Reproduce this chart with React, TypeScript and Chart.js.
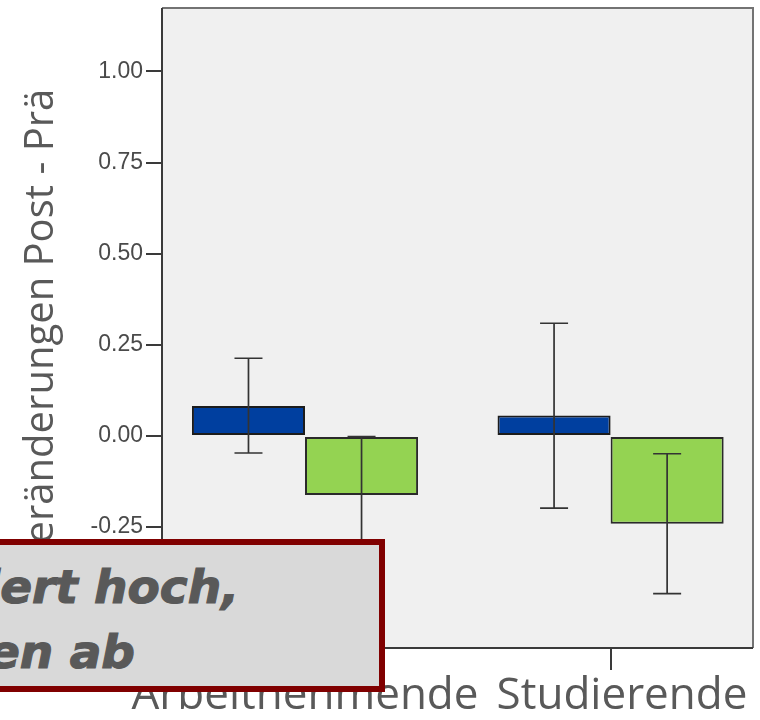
import React, { useEffect, useRef } from "react";
import { Chart, registerables } from "chart.js";

Chart.register(...registerables);

// ---- data ----
const categories = ["Arbeitnehmende", "Studierende"];
const categoryPositions = [1, 2];
const seriesNames = ["Gruppe 1", "Gruppe 2"];
const blueMeans = [0.082, 0.056];
const blueLow = [-0.047, -0.198];
const blueHigh = [0.213, 0.309];
const greenMeans = [-0.162, -0.241];
const greenLow = [-0.322, -0.433];
const greenHigh = [-0.002, -0.049];
const yTickValues = [-0.5, -0.25, 0, 0.25, 0.5, 0.75, 1.0];
const yTitle = "Veränderungen Post - Prä";
const calloutLines = ["dert hoch,", "en ab"];

// axis ranges
const xMin = 0.532;
const xMax = 2.466;
const yMin = -0.582;
const yMax = 1.174;

const plotFrame = {
  id: "plotFrame",
  beforeDraw(chart: any) {
    const { ctx, chartArea: a } = chart;
    ctx.save();
    ctx.fillStyle = "#f0f0f0";
    ctx.fillRect(a.left, a.top, a.right - a.left, a.bottom - a.top);
    ctx.restore();
  },
  afterDraw(chart: any) {
    const { ctx, chartArea: a } = chart;
    ctx.save();
    ctx.lineWidth = 2;
    ctx.strokeStyle = "#737373";
    ctx.beginPath();
    ctx.moveTo(a.left, a.top);
    ctx.lineTo(a.right, a.top);
    ctx.lineTo(a.right, a.bottom);
    ctx.stroke();
    ctx.strokeStyle = "#3a3a3a";
    ctx.beginPath();
    ctx.moveTo(a.left, a.top);
    ctx.lineTo(a.left, a.bottom);
    ctx.lineTo(a.right, a.bottom);
    ctx.stroke();
    ctx.restore();
  },
};

const errorBars = {
  id: "errorBars",
  afterDatasetsDraw(chart: any) {
    const { ctx } = chart;
    const yScale = chart.scales.y;
    const ranges = [
      [blueLow, blueHigh],
      [greenLow, greenHigh],
    ];
    ctx.save();
    ctx.strokeStyle = "#333333";
    ctx.lineWidth = 1.7;
    ranges.forEach(([lo, hi], di) => {
      const meta = chart.getDatasetMeta(di);
      meta.data.forEach((bar: any, i: number) => {
        const x = bar.x;
        const y1 = yScale.getPixelForValue(hi[i]);
        const y2 = yScale.getPixelForValue(lo[i]);
        const half = 14;
        ctx.beginPath();
        ctx.moveTo(x, y1);
        ctx.lineTo(x, y2);
        ctx.moveTo(x - half, y1);
        ctx.lineTo(x + half, y1);
        ctx.moveTo(x - half, y2);
        ctx.lineTo(x + half, y2);
        ctx.stroke();
      });
    });
    ctx.restore();
  },
};

export default function App() {
  const canvasRef = useRef<HTMLCanvasElement | null>(null);

  useEffect(() => {
    const canvas = canvasRef.current;
    if (!canvas) return;
    const chart = new Chart(canvas, {
      type: "bar",
      data: {
        datasets: [
          {
            label: seriesNames[0],
            data: categoryPositions.map((x, i) => ({ x, y: blueMeans[i] })),
            backgroundColor: "#003f9f",
            borderColor: "#1c1c1c",
            borderWidth: 2,
            borderSkipped: false,
            categoryPercentage: 0.74,
            barPercentage: 1.0,
          },
          {
            label: seriesNames[1],
            data: categoryPositions.map((x, i) => ({ x, y: greenMeans[i] })),
            backgroundColor: "#94d352",
            borderColor: "#2a2a2a",
            borderWidth: 2,
            borderSkipped: false,
            categoryPercentage: 0.74,
            barPercentage: 1.0,
          },
        ],
      } as any,
      options: {
        responsive: false,
        animation: false,
        events: [],
        layout: { padding: { left: 0, top: 8, right: 7, bottom: 0 } },
        plugins: {
          legend: { display: false },
          tooltip: { enabled: false },
        },
        scales: {
          x: {
            type: "linear",
            min: xMin,
            max: xMax,
            offset: false,
            afterBuildTicks: (s: any) => {
              s.ticks = categoryPositions.map((v) => ({ value: v }));
            },
            afterFit: (s: any) => {
              s.height = 72;
              s.paddingLeft = 0;
              s.paddingRight = 0;
            },
            grid: {
              display: true,
              offset: false,
              drawOnChartArea: false,
              drawTicks: true,
              tickLength: 22,
              color: "#3a3a3a",
              lineWidth: 2,
            },
            border: { display: false },
            ticks: {
              autoSkip: false,
              maxRotation: 0,
              padding: 0,
              color: "#595959",
              font: { family: "'Open Sans'", size: 44 },
              callback: (v: any) => {
                const idx = categoryPositions.indexOf(Number(v));
                if (idx < 0) return "";
                return idx === 1 ? "  " + categories[idx] : categories[idx];
              },
            },
          },
          y: {
            type: "linear",
            min: yMin,
            max: yMax,
            afterBuildTicks: (s: any) => {
              s.ticks = yTickValues.map((v) => ({ value: v }));
            },
            afterFit: (s: any) => {
              s.width = 162;
              s.paddingTop = 0;
              s.paddingBottom = 0;
            },
            grid: {
              display: true,
              drawOnChartArea: false,
              drawTicks: true,
              tickLength: 16,
              color: "#3a3a3a",
              lineWidth: 2,
            },
            border: { display: false },
            ticks: {
              padding: 3,
              color: "#4a4a4a",
              font: { family: "'Liberation Sans'", size: 23 },
              callback: (v: any) => Number(v).toFixed(2),
            },
            title: {
              display: true,
              text: yTitle,
              color: "#595959",
              font: { family: "'Open Sans'", size: 40 },
              padding: { top: 18, bottom: 0 },
            },
          },
        },
      } as any,
      plugins: [plotFrame, errorBars],
    });
    return () => chart.destroy();
  }, []);

  const lineStyle: React.CSSProperties = {
    position: "absolute",
    whiteSpace: "nowrap",
    fontFamily: "'DejaVu Sans', Verdana, sans-serif",
    fontWeight: "bold",
    fontStyle: "italic",
    fontSize: 47,
    lineHeight: "47px",
    color: "#595959",
    WebkitTextStroke: "1.2px #595959",
  } as React.CSSProperties;

  return (
    <div
      style={{
        position: "absolute",
        left: 0,
        top: 0,
        width: 760,
        height: 720,
        overflow: "hidden",
        background: "#ffffff",
      }}
    >
      <canvas
        ref={canvasRef}
        width={760}
        height={720}
        style={{ position: "absolute", left: 0, top: 0 }}
      />
      <div
        style={{
          position: "absolute",
          left: -200,
          top: 539,
          width: 585,
          height: 153,
          boxSizing: "border-box",
          border: "6px solid #800000",
          background: "#d9d9d9",
          overflow: "hidden",
        }}
      >
        <div style={{ ...lineStyle, right: 140, top: 18 }}>{calloutLines[0]}</div>
        <div style={{ ...lineStyle, right: 244, top: 83 }}>{calloutLines[1]}</div>
      </div>
    </div>
  );
}
